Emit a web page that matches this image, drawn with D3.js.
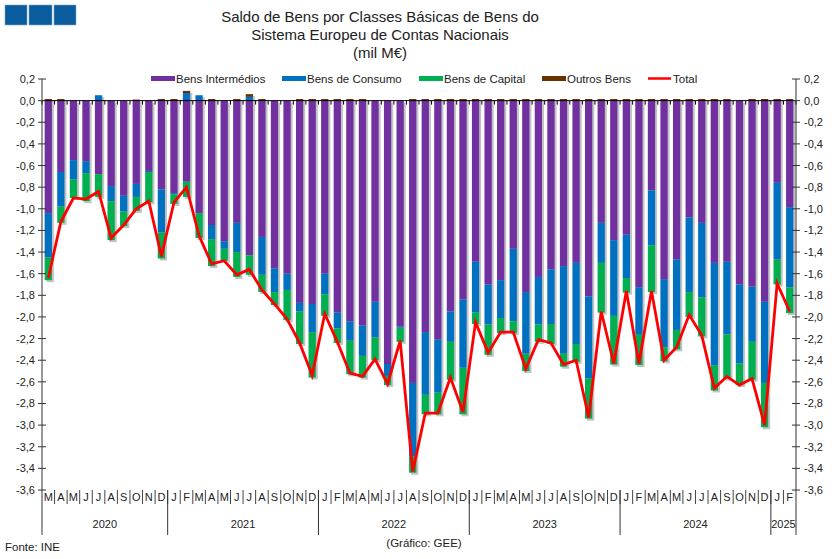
<!DOCTYPE html>
<html>
<head>
<meta charset="utf-8">
<script src="https://cdn.jsdelivr.net/npm/d3@7"></script>
<style>
  body { margin: 0; background: #fff; }
  text { font-family: "Liberation Sans", Arial, sans-serif; fill: #222; }
</style>
</head>
<body>
<div id="chart"></div>
<script>
// months from Mar 2020 to Feb 2025
var monthLabels = ["M","A","M","J","J","A","S","O","N","D",
  "J","F","M","A","M","J","J","A","S","O","N","D",
  "J","F","M","A","M","J","J","A","S","O","N","D",
  "J","F","M","A","M","J","J","A","S","O","N","D",
  "J","F","M","A","M","J","J","A","S","O","N","D",
  "J","F"];
var years = ["2020","2021","2022","2023","2024","2025"];
var yearMonths = [10, 12, 12, 12, 12, 2];

var intermedios = [-1.04,-0.66,-0.55,-0.56,-0.68,-0.79,-0.88,-0.77,-0.65,-0.82,
  -0.855,-0.75,-1.04,-1.15,-1.30,-1.13,-1.43,-1.26,-1.55,-1.60,-1.87,-1.88,
  -1.60,-1.96,-2.04,-2.08,-1.86,-2.435,-2.09,-2.61,-2.14,-2.21,-1.95,-1.84,
  -1.49,-1.70,-1.66,-1.37,-1.77,-1.63,-1.56,-1.53,-1.50,-1.81,-1.13,-1.29,
  -1.24,-1.725,-0.83,-1.65,-1.47,-1.08,-1.13,-1.50,-1.49,-1.70,-1.72,-1.86,
  -0.76,-0.985];
var consumo = [-0.41,-0.32,-0.18,-0.11,0.05,-0.14,-0.145,-0.12,-0.01,-0.40,
  -0.01,0.07,0.05,-0.13,-0.07,-0.27,0.035,-0.35,-0.22,-0.15,-0.08,-0.26,
  -0.19,-0.145,-0.18,-0.28,-0.33,-0.11,-0.01,-0.68,-0.58,-0.49,-0.28,-0.63,
  -0.47,-0.37,-0.35,-0.67,-0.57,-0.44,-0.505,-0.81,-0.75,-0.76,-0.37,-0.70,
  -0.40,-0.44,-0.51,-0.63,-0.65,-0.69,-0.69,-0.95,-0.67,-0.73,-0.51,-0.75,
  -0.71,-0.74];
var capital = [-0.21,-0.15,-0.17,-0.26,-0.21,-0.36,-0.135,-0.13,-0.28,-0.24,
  -0.09,-0.14,-0.23,-0.25,-0.11,-0.23,-0.18,-0.16,-0.12,-0.28,-0.30,-0.42,
  -0.20,-0.135,-0.31,-0.20,-0.21,-0.085,-0.13,-0.15,-0.18,-0.20,-0.35,-0.43,
  -0.105,-0.28,-0.14,-0.11,-0.16,-0.16,-0.185,-0.12,-0.165,-0.37,-0.46,-0.45,
  -0.135,-0.28,-0.43,-0.13,-0.18,-0.23,-0.36,-0.23,-0.41,-0.20,-0.35,-0.41,
  -0.23,-0.24];
var outros = [0.015,0.015,0,0,0,0,0,0.01,0,0.015,
  0.015,0.02,0,0.015,0,0.015,0.025,0.015,0,0,0.015,0.015,
  0.015,0.015,0.015,0.015,0,0,0,0.015,0.015,0.015,0.015,0.015,
  0.015,0.015,0.015,0.015,0.015,0.015,0.015,0.015,0.015,0.015,0.015,0.015,
  0.015,0.015,0.015,0.015,0.015,0.015,0.015,0.015,0.015,0,0.015,0.015,
  0.015,0.015];
var total = [-1.64,-1.12,-0.90,-0.91,-0.84,-1.27,-1.15,-1.00,-0.93,-1.44,
  -0.94,-0.80,-1.25,-1.51,-1.48,-1.61,-1.56,-1.75,-1.88,-2.02,-2.24,-2.54,
  -1.97,-2.23,-2.52,-2.55,-2.39,-2.62,-2.22,-3.43,-2.89,-2.89,-2.56,-2.88,
  -2.05,-2.33,-2.14,-2.14,-2.48,-2.21,-2.24,-2.44,-2.40,-2.93,-1.95,-2.43,
  -1.76,-2.43,-1.76,-2.40,-2.28,-1.98,-2.17,-2.66,-2.55,-2.63,-2.57,-3.00,
  -1.69,-1.95];

var seriesNames = ["Bens Intermédios","Bens de Consumo","Bens de Capital","Outros Bens"];
var seriesColors = ["#7030A0","#0070C0","#00B050","#663300"];
var yTicks = d3.range(-3.6, 0.21, 0.2).map(d => Math.round(d * 10) / 10);

var svgWidth = 839, svgHeight = 559;
var margin = { top: 79, right: 43, bottom: 69, left: 42 };
var width = svgWidth - margin.left - margin.right;
var height = svgHeight - margin.top - margin.bottom;

var svg = d3.select("#chart").append("svg")
  .attr("width", svgWidth)
  .attr("height", svgHeight);

// logo
[[5, 22], [29, 23], [54, 22]].forEach(function(s) {
  svg.append("rect").attr("x", s[0]).attr("y", 5).attr("width", s[1]).attr("height", 20)
    .attr("fill", "#0B5C9E").attr("stroke", "#7fa6c8").attr("stroke-width", 0.6);
});

// title
var titleLines = ["Saldo de Bens por Classes Básicas de Bens do", "Sistema Europeu de Contas Nacionais", "(mil M€)"];
svg.append("g").selectAll("text").data(titleLines).enter().append("text")
  .attr("x", 380).attr("y", (d, i) => 22 + i * 18)
  .attr("text-anchor", "middle")
  .style("font-size", "15px")
  .text(d => d);

var data = monthLabels.map(function(m, i) {
  return { i: i, interm: intermedios[i], cons: consumo[i], cap: capital[i], out: outros[i], total: total[i] };
});

var x = d3.scaleBand().domain(d3.range(monthLabels.length))
  .range([margin.left, margin.left + width]).paddingInner(0.42).paddingOuter(0.21);
var y = d3.scaleLinear().domain([-3.6, 0.2]).range([margin.top + height, margin.top]);
var step = x.step();

var stack = d3.stack().keys(["interm", "cons", "cap", "out"]).offset(d3.stackOffsetDiverging);
var layers = stack(data);

// shadows behind each whole bar
var posTop = d => Math.max(0, d.cons) + d.out;
var negBottom = d => d.interm + Math.min(0, d.cons) + d.cap;
svg.append("g").selectAll("rect").data(data).enter().append("rect")
  .attr("x", d => x(d.i) + 2)
  .attr("y", d => y(posTop(d)) + 2)
  .attr("width", x.bandwidth())
  .attr("height", d => y(negBottom(d)) - y(posTop(d)))
  .attr("fill", "#c4c4c4");

// bars
svg.append("g").selectAll("g").data(layers).enter().append("g")
  .attr("fill", (d, i) => seriesColors[i])
  .selectAll("rect").data(d => d).enter().append("rect")
  .attr("x", d => x(d.data.i))
  .attr("y", d => y(d[1]))
  .attr("width", x.bandwidth())
  .attr("height", d => Math.max(0, y(d[0]) - y(d[1])));

// zero axis with ticks at band boundaries
var zeroY = y(0);
svg.append("line").attr("x1", margin.left).attr("x2", margin.left + width)
  .attr("y1", zeroY).attr("y2", zeroY).attr("stroke", "#000").attr("stroke-width", 1);
svg.append("g").selectAll("line").data(d3.range(monthLabels.length + 1)).enter().append("line")
  .attr("x1", d => margin.left + d * step).attr("x2", d => margin.left + d * step)
  .attr("y1", zeroY).attr("y2", zeroY + 4)
  .attr("stroke", "#000");

// total line
var line = d3.line().x(d => x(d.i) + x.bandwidth() / 2).y(d => y(d.total));
svg.append("path").datum(data).attr("d", line)
  .attr("fill", "none").attr("stroke", "#FF0000").attr("stroke-width", 2.8)
  .attr("stroke-linejoin", "miter");

// y axes
var fmt = d => d3.format(".1f")(d).replace(".", ",").replace("−", "-");
var axisBottomY = margin.top + height + 45;
[margin.left, margin.left + width].forEach(function(ax, k) {
  var g = svg.append("g");
  g.append("line").attr("x1", ax).attr("x2", ax).attr("y1", margin.top).attr("y2", axisBottomY)
    .attr("stroke", "#333");
  g.selectAll("line.t").data(yTicks).enter().append("line")
    .attr("x1", ax - 4).attr("x2", ax + 4)
    .attr("y1", d => y(d)).attr("y2", d => y(d)).attr("stroke", "#333");
  g.selectAll("text").data(yTicks).enter().append("text")
    .attr("x", k === 0 ? ax - 7 : ax + 8)
    .attr("y", d => y(d) + 4)
    .attr("text-anchor", k === 0 ? "end" : "start")
    .style("font-size", "11px")
    .text(fmt);
});

// month axis at the bottom
var baseY = margin.top + height;
svg.append("g").selectAll("line").data(d3.range(1, monthLabels.length)).enter().append("line")
  .attr("x1", d => margin.left + d * step).attr("x2", d => margin.left + d * step)
  .attr("y1", baseY).attr("y2", baseY + 14)
  .attr("stroke", "#444");
svg.append("g").selectAll("text").data(monthLabels).enter().append("text")
  .attr("x", (d, i) => x(i) + x.bandwidth() / 2)
  .attr("y", baseY + 11)
  .attr("text-anchor", "middle")
  .style("font-size", "11px")
  .text(d => d);

// years
var start = 0;
years.forEach(function(yr, k) {
  var x0 = margin.left + start * step;
  var x1 = margin.left + (start + yearMonths[k]) * step;
  svg.append("text").attr("x", (x0 + x1) / 2).attr("y", baseY + 38)
    .attr("text-anchor", "middle").style("font-size", "11px").text(yr);
  if (start > 0) {
    svg.append("line").attr("x1", x0).attr("x2", x0).attr("y1", baseY).attr("y2", axisBottomY)
      .attr("stroke", "#333");
  }
  start += yearMonths[k];
});

// legend
var legendItems = [
  { name: seriesNames[0], color: seriesColors[0], x: 151 },
  { name: seriesNames[1], color: seriesColors[1], x: 282 },
  { name: seriesNames[2], color: seriesColors[2], x: 419 },
  { name: seriesNames[3], color: seriesColors[3], x: 542 },
  { name: "Total", color: "#FF0000", x: 648, line: true }
];
var legend = svg.append("g");
legendItems.forEach(function(it) {
  if (it.line) {
    legend.append("line").attr("x1", it.x).attr("x2", it.x + 23).attr("y1", 78.5).attr("y2", 78.5)
      .attr("stroke", it.color).attr("stroke-width", 2.5);
  } else {
    legend.append("rect").attr("x", it.x).attr("y", 76).attr("width", 24).attr("height", 5)
      .attr("fill", it.color);
  }
  legend.append("text").attr("x", it.x + 25).attr("y", 82.5)
    .style("font-size", "11.5px").text(it.name);
});

// footer
svg.append("text").attr("x", 5).attr("y", 551).style("font-size", "11.5px").text("Fonte: INE");
svg.append("text").attr("x", 424).attr("y", 547).attr("text-anchor", "middle")
  .style("font-size", "11.5px").text("(Gráfico: GEE)");
</script>
</body>
</html>
